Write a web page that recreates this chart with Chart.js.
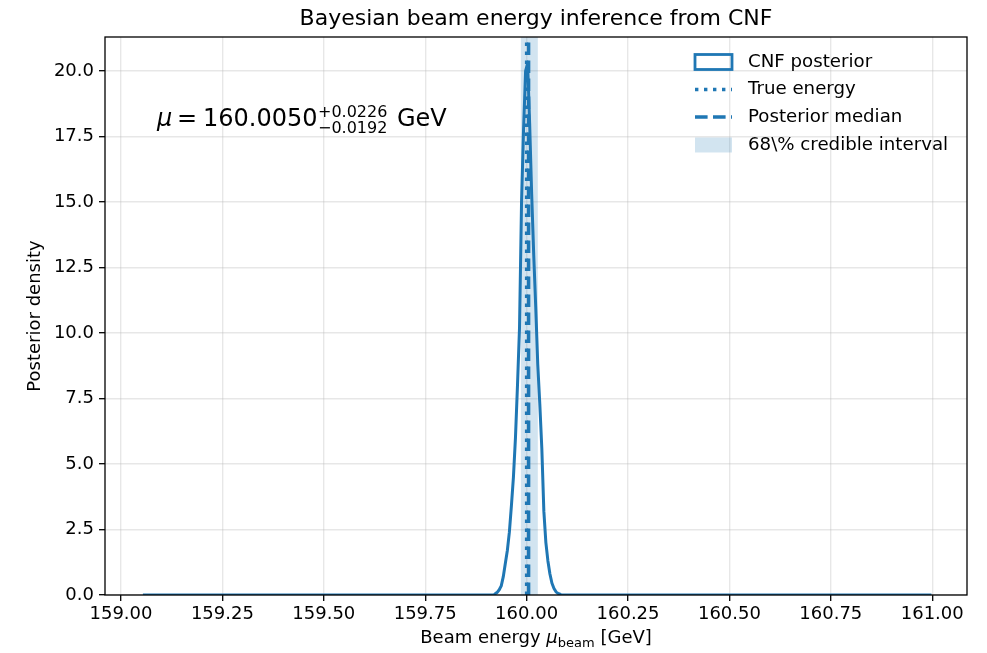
<!DOCTYPE html>
<html>
<head>
<meta charset="utf-8">
<script src="https://cdn.jsdelivr.net/npm/chart.js@4.4.1/dist/chart.umd.min.js"></script>
<style>
  html, body { margin: 0; padding: 0; background: #fff; }
  canvas { display: block; }
</style>
</head>
<body>
<canvas id="c" width="987" height="653"></canvas>
<script>
// Histogram of the CNF posterior samples (density per bin). Bins are finer
// than a pixel in the original, so the outline reads as a smooth curve.
const binEdges = [
  159.920, 159.925, 159.930, 159.935, 159.940, 159.945, 159.950, 159.955, 159.960,
  159.965, 159.970, 159.975, 159.980, 159.985, 159.990, 159.995, 160.000, 160.005,
  160.010, 160.015, 160.020, 160.025, 160.030, 160.035, 160.040, 160.045, 160.050,
  160.055, 160.060, 160.065, 160.070, 160.075, 160.080, 160.085,
];
const binDensity = [
  0.05, 0.10, 0.20, 0.35, 0.70, 1.20, 1.70, 2.40, 3.40, 4.50, 6.00, 8.00, 10.2,
  15.0, 17.8, 20.0, 20.3, 18.0, 15.3, 13.0, 11.0, 8.80, 7.30, 5.60, 3.20, 2.00,
  1.30, 0.80, 0.45, 0.25, 0.12, 0.06, 0.03,
];
// outermost samples: the outline is flat ~0 out here
const sampleRange = [159.054, 160.998];

const trueEnergy = 160.000;
const medianEnergy = 160.005;
const credInterval = [159.9858, 160.0276];   // median -0.0192 / +0.0226

const xTicks = [159.00, 159.25, 159.50, 159.75, 160.00, 160.25, 160.50, 160.75, 161.00];
const yTicks = [0, 2.5, 5, 7.5, 10, 12.5, 15, 17.5, 20];
const xLimits = [158.9606, 161.0857];
const yLimits = [0, 21.3];

const C0 = '#1f77b4';
const FONT = '"DejaVu Sans", "Liberation Sans", sans-serif';

// outline through the bin centres
const histPts = [{ x: sampleRange[0], y: 0 }, { x: binEdges[0], y: 0 }];
binDensity.forEach((d, i) => histPts.push({ x: (binEdges[i] + binEdges[i + 1]) / 2, y: d }));
histPts.push({ x: binEdges[binEdges.length - 1], y: 0 });
histPts.push({ x: sampleRange[1], y: 0 });

const vline = (x) => [{ x, y: yLimits[0] }, { x, y: yLimits[1] }];

// shaded 68% band behind the curves
const bandPlugin = {
  id: 'band',
  beforeDatasetsDraw(chart) {
    const { ctx, chartArea: a, scales: { x } } = chart;
    const x0 = x.getPixelForValue(credInterval[0]);
    const x1 = x.getPixelForValue(credInterval[1]);
    ctx.save();
    ctx.fillStyle = 'rgba(31,119,180,0.2)';
    ctx.fillRect(x0, a.top, x1 - x0, a.bottom - a.top);
    ctx.restore();
  },
};

// axes box, title, axis labels, legend, annotation
const decorPlugin = {
  id: 'decor',
  afterDraw(chart) {
    const { ctx, chartArea: a } = chart;
    ctx.save();
    ctx.strokeStyle = '#000';
    ctx.lineWidth = 1.3;
    ctx.strokeRect(a.left, a.top, a.right - a.left, a.bottom - a.top);

    ctx.fillStyle = '#000';
    const cx = (a.left + a.right) / 2;

    ctx.font = `22px ${FONT}`;
    ctx.textAlign = 'center';
    ctx.textBaseline = 'alphabetic';
    ctx.fillText('Bayesian beam energy inference from CNF', cx, 25);

    // x label with italic mu and subscript
    const parts = [
      { t: 'Beam energy ', f: `18px ${FONT}`, dy: 0 },
      { t: 'μ', f: `italic 18px ${FONT}`, dy: 0 },
      { t: 'beam', f: `13px ${FONT}`, dy: 4 },
      { t: ' [GeV]', f: `18px ${FONT}`, dy: 0 },
    ];
    let w = 0;
    parts.forEach((p) => { ctx.font = p.f; w += ctx.measureText(p.t).width; });
    let px = cx - w / 2;
    ctx.textAlign = 'left';
    parts.forEach((p) => {
      ctx.font = p.f;
      ctx.fillText(p.t, px, 643 + p.dy);
      px += ctx.measureText(p.t).width;
    });

    ctx.save();
    ctx.translate(40, (a.top + a.bottom) / 2);
    ctx.rotate(-Math.PI / 2);
    ctx.textAlign = 'center';
    ctx.font = `18px ${FONT}`;
    ctx.fillText('Posterior density', 0, 0);
    ctx.restore();

    // annotation  mu = 160.0050 (+0.0226 / -0.0192) GeV
    ctx.textAlign = 'left';
    ctx.font = `italic 24px ${FONT}`;
    ctx.fillText('μ', 157, 126);
    ctx.font = `24px ${FONT}`;
    ctx.fillText('=', 177, 126);
    ctx.fillText('160.0050', 203, 126);
    ctx.font = `16px ${FONT}`;
    ctx.fillText('+0.0226', 318, 117);
    ctx.fillText('−0.0192', 318, 133);
    ctx.font = `24px ${FONT}`;
    ctx.fillText('GeV', 397, 126);

    // legend (no frame)
    const hx = 695, hw = 37, tx = 748;
    const rows = [62, 89.5, 117, 145];
    ctx.font = `18.2px ${FONT}`;
    ctx.textBaseline = 'middle';
    ctx.fillText('CNF posterior', tx, rows[0]);
    ctx.fillText('True energy', tx, rows[1]);
    ctx.fillText('Posterior median', tx, rows[2]);
    ctx.fillText('68\\% credible interval', tx, rows[3]);

    ctx.strokeStyle = C0;
    ctx.lineWidth = 2.8;
    ctx.strokeRect(hx, rows[0] - 7.5, hw, 15);
    ctx.lineWidth = 3.4;
    ctx.lineCap = 'butt';
    ctx.setLineDash([3.4, 5.6]);
    ctx.beginPath(); ctx.moveTo(hx, rows[1]); ctx.lineTo(hx + hw, rows[1]); ctx.stroke();
    ctx.setLineDash([12.6, 5.4]);
    ctx.beginPath(); ctx.moveTo(hx, rows[2]); ctx.lineTo(hx + hw, rows[2]); ctx.stroke();
    ctx.setLineDash([]);
    ctx.fillStyle = 'rgba(31,119,180,0.2)';
    ctx.fillRect(hx, rows[3] - 7.5, hw, 15);
    ctx.restore();
  },
};

const tickFont = { family: FONT, size: 18 };
const gridOpts = {
  color: 'rgba(176,176,176,0.3)', lineWidth: 1.4,
  tickColor: '#000', tickLength: 6, tickWidth: 1.3,
};

new Chart(document.getElementById('c'), {
  type: 'line',
  data: {
    datasets: [
      { label: 'CNF posterior', data: histPts, borderColor: C0, tension: 0,
        borderWidth: 3, pointRadius: 0, fill: false, borderJoinStyle: 'round' },
      { label: 'True energy', data: vline(trueEnergy), borderColor: C0,
        borderWidth: 3.4, borderDash: [3.4, 5.6], pointRadius: 0, fill: false },
      { label: 'Posterior median', data: vline(medianEnergy), borderColor: C0,
        borderWidth: 3.4, borderDash: [12.6, 5.4], pointRadius: 0, fill: false },
    ],
  },
  options: {
    responsive: false,
    animation: false,
    devicePixelRatio: 1,
    layout: { padding: { top: 37, right: 20, left: 0, bottom: 0 } },
    plugins: { legend: { display: false }, tooltip: { enabled: false }, title: { display: false } },
    scales: {
      x: {
        type: 'linear', min: xLimits[0], max: xLimits[1],
        afterBuildTicks: (s) => { s.ticks = xTicks.map((v) => ({ value: v })); },
        afterFit: (s) => { s.height = 58; },
        ticks: { callback: (v) => Number(v).toFixed(2), font: tickFont, color: '#000',
          padding: 3, maxRotation: 0, autoSkip: false },
        grid: gridOpts,
        border: { display: false },
      },
      y: {
        type: 'linear', min: yLimits[0], max: yLimits[1],
        afterBuildTicks: (s) => { s.ticks = yTicks.map((v) => ({ value: v })); },
        afterFit: (s) => { s.width = 105; },
        ticks: { callback: (v) => Number(v).toFixed(1), font: tickFont, color: '#000',
          padding: 5, autoSkip: false },
        grid: gridOpts,
        border: { display: false },
      },
    },
  },
  plugins: [bandPlugin, decorPlugin],
});
</script>
</body>
</html>
